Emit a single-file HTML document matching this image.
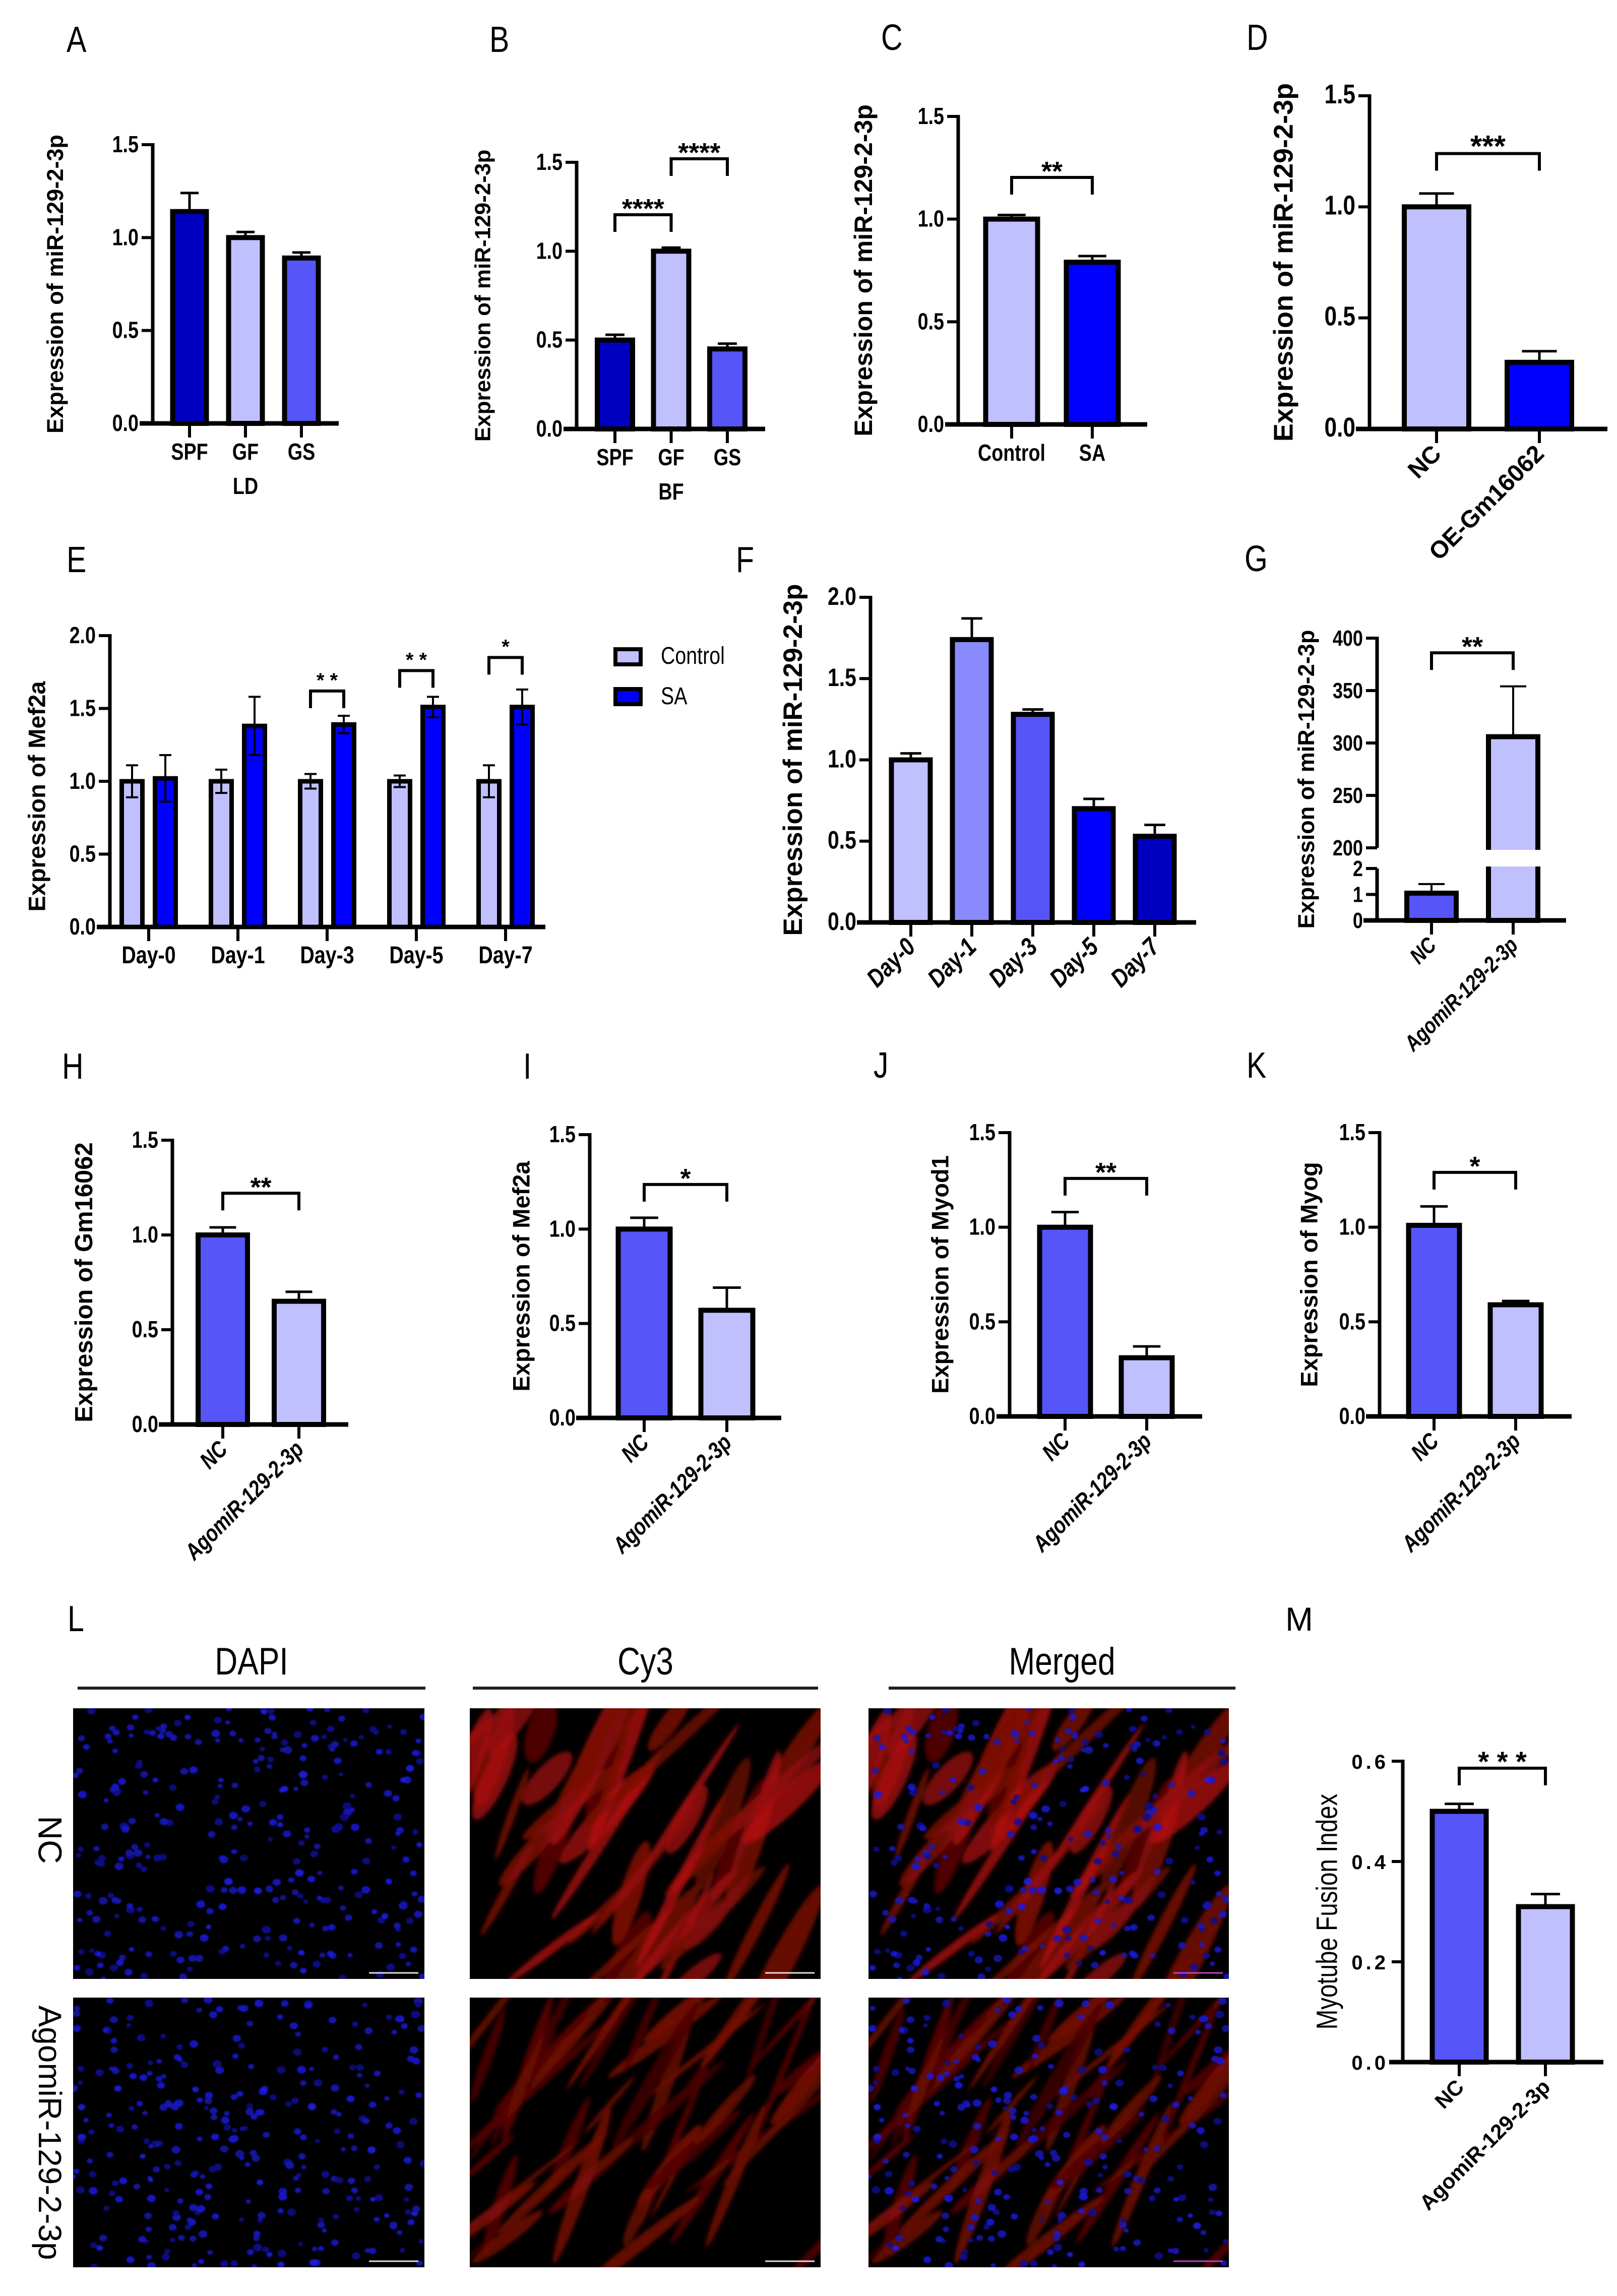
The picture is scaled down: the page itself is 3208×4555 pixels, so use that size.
<!DOCTYPE html>
<html><head><meta charset="utf-8"><title>Figure</title>
<style>
html,body{margin:0;padding:0;background:#fff;}
svg{display:block;}
</style></head>
<body>
<svg id="fig" width="3208" height="4555" viewBox="0 0 3208 4555" xmlns="http://www.w3.org/2000/svg">
<defs>
<filter id="blur" x="-20%" y="-20%" width="140%" height="140%"><feGaussianBlur stdDeviation="4"/></filter>
<filter id="blurS"><feGaussianBlur stdDeviation="1.2"/></filter>
</defs>
</svg>
<script>
// ===== Data arrays =====
const aCats=["SPF","GF","GS"]; const aVals=[1.14,1.0,0.89]; const aErrs=[0.10,0.03,0.03];
const aTicks=[0,0.5,1.0,1.5]; const aTickLabels=["0.0","0.5","1.0","1.5"];
const bCats=["SPF","GF","GS"]; const bVals=[0.50,1.0,0.45]; const bErrs=[0.03,0.02,0.03];
const bTicks=[0,0.5,1.0,1.5]; const bTickLabels=["0.0","0.5","1.0","1.5"];
const cCats=["Control","SA"]; const cVals=[1.0,0.79]; const cErrs=[0.02,0.03];
const cTicks=[0,0.5,1.0,1.5]; const cTickLabels=["0.0","0.5","1.0","1.5"];
const dCats=["NC","OE-Gm16062"]; const dVals=[1.0,0.30]; const dErrs=[0.06,0.05];
const dTicks=[0,0.5,1.0,1.5]; const dTickLabels=["0.0","0.5","1.0","1.5"];
const eCats=["Day-0","Day-1","Day-3","Day-5","Day-7"];
const eControl=[1.0,1.0,1.0,1.0,1.0]; const eControlErr=[0.11,0.08,0.05,0.04,0.11];
const eSA=[1.02,1.38,1.39,1.51,1.51]; const eSAErr=[0.16,0.20,0.06,0.07,0.12];
const eTicks=[0,0.5,1.0,1.5,2.0]; const eTickLabels=["0.0","0.5","1.0","1.5","2.0"];
const eSigLabels=["","","* *","* *","*"]; const eSigLevels=[0,0,1.62,1.76,1.85];
const fCats=["Day-0","Day-1","Day-3","Day-5","Day-7"]; const fVals=[1.0,1.74,1.28,0.70,0.53]; const fErrs=[0.04,0.13,0.03,0.06,0.07];
const fTicks=[0,0.5,1.0,1.5,2.0]; const fTickLabels=["0.0","0.5","1.0","1.5","2.0"];
const gCats=["NC","AgomiR-129-2-3p"]; const gVals=[1.05,306]; const gErrs=[0.35,48];
const gLowTicks=[0,1,2]; const gHighTicks=[200,250,300,350,400];
const hCats=["NC","AgomiR-129-2-3p"]; const hVals=[1.0,0.65]; const hErrs=[0.04,0.05];
const iCats=["NC","AgomiR-129-2-3p"]; const iVals=[1.0,0.57]; const iErrs=[0.06,0.12];
const jCats=["NC","AgomiR-129-2-3p"]; const jVals=[1.0,0.31]; const jErrs=[0.08,0.06];
const kCats=["NC","AgomiR-129-2-3p"]; const kVals=[1.01,0.59]; const kErrs=[0.10,0.02];
const stdTicks=[0,0.5,1.0,1.5]; const stdTickLabels=["0.0","0.5","1.0","1.5"];
const mCats=["NC","AgomiR-129-2-3p"]; const mVals=[0.50,0.31]; const mErrs=[0.015,0.025];
const mTicks=[0,0.2,0.4,0.6]; const mTickLabels=["0.0","0.2","0.4","0.6"];

// ===== Helpers =====
const NS='http://www.w3.org/2000/svg';
const svg=document.getElementById('fig');
const NAR='"Liberation Sans Narrow","Liberation Sans",sans-serif';
const SANS='"Liberation Sans",sans-serif';
function mk(tag,attrs,name,parent){
  const el=document.createElementNS(NS,tag);
  for(const k in attrs) el.setAttribute(k,attrs[k]);
  
  
  (parent||svg).appendChild(el); return el;
}
function txt(s,x,y,a,name,parent){
  a=Object.assign({},a);
  if(a['font-family']===NAR){
    const sc=`translate(${x} ${y}) scale(0.82 1) translate(${-x} ${-y})`;
    a.transform=(a.transform?a.transform+' ':'')+sc;
  }
  const el=mk('text',Object.assign({x:x,y:y},a),name,parent); el.textContent=s; return el;
}
function line(x1,y1,x2,y2,w,name,parent,col){
  return mk('line',{x1:x1,y1:y1,x2:x2,y2:y2,stroke:col||'#000','stroke-width':w},name,parent);
}
function panelLetter(s,x,y){ txt(s,x,y,{'font-family':NAR,'font-size':72,fill:'#000'},'panel-label-'+s.toLowerCase()); }

function bracket(g,x1,x2,yTop,label,fs,name){
  mk('path',{d:`M${x1} ${yTop+34} V${yTop} H${x2} V${yTop+34}`,fill:'none',stroke:'#000','stroke-width':6},name+'-bracket',g);
  txt(label,(x1+x2)/2,yTop+6,{'font-family':SANS,'font-weight':'bold','font-size':fs,'text-anchor':'middle'},name+'-stars',g);
}

function barChart(p){
  const g=mk('g',{},p.name);
  const y=v=>p.y0-(v/p.vMax)*(p.y0-p.yTop);
  const x=i=>p.c0+i*p.step;
  p.vals.forEach((v,i)=>{
    const cx=x(i), top=y(v+p.errs[i]);
    line(cx,y(v),cx,top,5,'error-bar-'+i,g);
    line(cx-p.bw*0.27,top,cx+p.bw*0.27,top,5,'error-cap-'+i,g);
    mk('rect',{x:cx-p.bw/2,y:y(v),width:p.bw,height:p.y0-y(v),fill:p.colors[i],stroke:'#000','stroke-width':10},'bar-'+p.cats[i].toLowerCase(),g);
  });
  line(p.ax,p.yTop-3,p.ax,p.y0,7,'y-axis',g);
  line(p.xStart,p.y0,p.xEnd,p.y0,9,'x-axis',g);
  p.ticks.forEach((t,i)=>{
    line(p.ax-22,y(t),p.ax,y(t),6,'y-tick',g);
    txt(p.tickLabels[i],p.ax-28,y(t)+15,{'font-family':p.tickFont||NAR,'font-weight':'bold','font-size':p.tfs||46,'text-anchor':'end','letter-spacing':p.tls||0},'y-tick-label',g);
  });
  p.cats.forEach((c,i)=>{
    const cx=x(i);
    line(cx,p.y0,cx,p.y0+28,6,'x-tick',g);
    if(p.rot){
      txt(c,cx+12,p.y0+52,{'font-family':p.xFont||NAR,'font-weight':'bold','font-style':p.italic?'italic':'normal','font-size':p.xfs||44,'text-anchor':'end',transform:`rotate(-45 ${cx+12} ${p.y0+52})`},'x-tick-label',g);
    } else {
      txt(c,cx,p.y0+72,{'font-family':NAR,'font-weight':'bold','font-size':p.xfs||46,'text-anchor':'middle'},'x-tick-label',g);
    }
  });
  if(p.xTitle) txt(p.xTitle,x((p.cats.length-1)/2),p.y0+140,{'font-family':NAR,'font-weight':'bold','font-size':46,'text-anchor':'middle'},'x-axis-title',g);
  const tx=p.ax-p.titleDx, ty=(p.y0+p.yTop)/2;
  txt(p.title,tx,ty,{'font-family':p.titleFont||SANS,'font-weight':p.titleWeight||'bold','font-size':p.titleFs||44,'text-anchor':'middle','dominant-baseline':'middle',transform:`rotate(-90 ${tx} ${ty})`},'y-axis-title',g);
  (p.sig||[]).forEach((s,k)=>bracket(g,x(s[0]),x(s[1]),y(s[2]),s[3],s[4]||54,'sig-'+k));
  return g;
}
const LIGHT='#c0c0ff', MED='#5555f8', BLUE='#0000ff', NAVY='#0000c0', MID2='#8a8aff';

// ===== Panels A-D =====
panelLetter('A',132,103); panelLetter('B',971,103); panelLetter('C',1748,99); panelLetter('D',2473,99);
barChart({name:'chart-a',ax:303,y0:840,yTop:287,vMax:1.5,xStart:277,xEnd:672,c0:376,step:111,bw:67,cats:aCats,vals:aVals,errs:aErrs,ticks:aTicks,tickLabels:aTickLabels,colors:[NAVY,LIGHT,MED],title:'Expression of miR-129-2-3p',titleDx:190,titleFs:45,xTitle:'LD'});
barChart({name:'chart-b',ax:1144,y0:851,yTop:322,vMax:1.5,xStart:1118,xEnd:1518,c0:1220,step:111.5,bw:70,cats:bCats,vals:bVals,errs:bErrs,ticks:bTicks,tickLabels:bTickLabels,colors:[NAVY,LIGHT,MED],title:'Expression of miR-129-2-3p',titleDx:183,titleFs:44,xTitle:'BF',sig:[[0,1,1.205,'****'],[1,2,1.52,'****']]});
barChart({name:'chart-c',ax:1901,y0:842,yTop:231,vMax:1.5,xStart:1875,xEnd:2276,c0:2007,step:160,bw:103,cats:cCats,vals:cVals,errs:cErrs,ticks:cTicks,tickLabels:cTickLabels,colors:[LIGHT,BLUE],title:'Expression of miR-129-2-3p',titleDx:184,titleFs:50,sig:[[0,1,1.203,'**']]});
barChart({name:'chart-d',ax:2717,y0:851,yTop:190,vMax:1.5,xStart:2690,xEnd:3189,c0:2850,step:204,bw:128,cats:dCats,vals:dVals,errs:dErrs,ticks:dTicks,tickLabels:dTickLabels,colors:[LIGHT,BLUE],title:'Expression of miR-129-2-3p',titleDx:167,titleFs:54,tfs:54,rot:true,xFont:SANS,xfs:48,sig:[[0,1,1.24,'***',60]]});

// ===== Panel E (grouped) =====
panelLetter('E',132,1135); panelLetter('F',1460,1135); panelLetter('G',2469,1133);
(function(){
  const g=mk('g',{},'chart-e');
  const ax=218,y0=1839,yTop=1261,vMax=2.0,c0=295,step=177,bw=41,off=33;
  const y=v=>y0-(v/vMax)*(y0-yTop);
  const x=i=>c0+i*step;
  function bar(cx,v,e,col,nm){
    mk('rect',{x:cx-bw/2,y:y(v),width:bw,height:y0-y(v),fill:col,stroke:'#000','stroke-width':9},nm,g);
    line(cx,y(v-e),cx,y(v+e),4,nm+'-error',g);
    line(cx-12,y(v+e),cx+12,y(v+e),4,nm+'-error-cap-top',g);
    line(cx-12,y(v-e),cx+12,y(v-e),4,nm+'-error-cap-bottom',g);
  }
  eCats.forEach((c,i)=>{
    bar(x(i)-off,eControl[i],eControlErr[i],LIGHT,'bar-control-'+c.toLowerCase());
    bar(x(i)+off,eSA[i],eSAErr[i],BLUE,'bar-sa-'+c.toLowerCase());
    line(x(i),y0,x(i),y0+28,6,'x-tick',g);
    txt(c,x(i),y0+72,{'font-family':NAR,'font-weight':'bold','font-size':48,'text-anchor':'middle'},'x-tick-label',g);
    if(eSigLabels[i]){
      const t=y(eSigLevels[i]);
      mk('path',{d:`M${x(i)-off} ${t+34} V${t} H${x(i)+off} V${t+34}`,fill:'none',stroke:'#000','stroke-width':6},'sig-bracket',g);
      txt(eSigLabels[i],x(i),t-8,{'font-family':SANS,'font-weight':'bold','font-size':40,'text-anchor':'middle'},'sig-stars',g);
    }
  });
  line(ax,yTop-3,ax,y0,7,'y-axis',g);
  line(192,y0,1082,y0,9,'x-axis',g);
  eTicks.forEach((t,i)=>{
    line(ax-22,y(t),ax,y(t),6,'y-tick',g);
    txt(eTickLabels[i],ax-28,y(t)+15,{'font-family':NAR,'font-weight':'bold','font-size':46,'text-anchor':'end'},'y-tick-label',g);
  });
  const tx=77,ty=(y0+yTop)/2+30;
  txt('Expression of Mef2a',tx,ty,{'font-family':SANS,'font-weight':'bold','font-size':47,'text-anchor':'middle','dominant-baseline':'middle',transform:`rotate(-90 ${tx} ${ty})`},'y-axis-title',g);
  const lg=mk('g',{},'legend',g);
  mk('rect',{x:1221,y:1288,width:50,height:30,fill:LIGHT,stroke:'#000','stroke-width':8},'legend-swatch-control',lg);
  txt('Control',1311,1317,{'font-family':NAR,'font-size':48},'legend-label-control',lg);
  mk('rect',{x:1221,y:1367,width:50,height:30,fill:BLUE,stroke:'#000','stroke-width':8},'legend-swatch-sa',lg);
  txt('SA',1311,1397,{'font-family':NAR,'font-size':48},'legend-label-sa',lg);
})();

barChart({name:'chart-f',ax:1727,y0:1830,yTop:1185,vMax:2.0,xStart:1700,xEnd:2373,c0:1807,step:121,bw:77,cats:fCats,vals:fVals,errs:fErrs,ticks:fTicks,tickLabels:fTickLabels,colors:[LIGHT,MID2,MED,BLUE,NAVY],title:'Expression of miR-129-2-3p',titleDx:150,titleFs:53,tfs:50,rot:true,italic:true,xfs:50});

// ===== Panel G (broken axis) =====
(function(){
  const g=mk('g',{},'chart-g');
  const ax=2732,y0=1826,yLowTop=1723,yHighBot=1682,yTop=1266;
  const yL=v=>y0-(v/2)*(y0-yLowTop);
  const yH=v=>yHighBot-((v-200)/200)*(yHighBot-yTop);
  const yv=v=>v<=2?yL(v):yH(v);
  const x=i=>2840+i*162, bw=98, cols=[MED,LIGHT];
  gVals.forEach((v,i)=>{
    const cx=x(i), e=gErrs[i];
    line(cx,yv(v),cx,yv(v+e),4,'error-bar-'+i,g);
    line(cx-26,yv(v+e),cx+26,yv(v+e),4,'error-cap-'+i,g);
    if(v<=2){
      mk('rect',{x:cx-bw/2,y:yL(v),width:bw,height:y0-yL(v),fill:cols[i],stroke:'#000','stroke-width':10},'bar-'+gCats[i].toLowerCase(),g);
    } else {
      mk('rect',{x:cx-bw/2,y:yH(v),width:bw,height:y0-yH(v),fill:cols[i],stroke:'#000','stroke-width':10},'bar-'+gCats[i].toLowerCase(),g);
      mk('rect',{x:cx-bw/2-8,y:yHighBot+4,width:bw+16,height:yLowTop-yHighBot-8,fill:'#fff'},'axis-break-gap',g);
    }
  });
  line(ax,yTop-3,ax,yHighBot,7,'y-axis-upper',g);
  line(ax,yLowTop,ax,y0,7,'y-axis-lower',g);
  line(2705,y0,3107,y0,9,'x-axis',g);
  gLowTicks.forEach(t=>{ line(ax-22,yL(t),ax,yL(t),6,'y-tick',g); txt(String(t),ax-28,yL(t)+15,{'font-family':NAR,'font-weight':'bold','font-size':44,'text-anchor':'end'},'y-tick-label',g); });
  gHighTicks.forEach(t=>{ line(ax-22,yH(t),ax,yH(t),6,'y-tick',g); txt(String(t),ax-28,yH(t)+15,{'font-family':NAR,'font-weight':'bold','font-size':44,'text-anchor':'end'},'y-tick-label',g); });
  gCats.forEach((c,i)=>{
    line(x(i),y0,x(i),y0+28,6,'x-tick',g);
    txt(c,x(i)+12,y0+52,{'font-family':NAR,'font-weight':'bold','font-style':'italic','font-size':44,'text-anchor':'end',transform:`rotate(-45 ${x(i)+12} ${y0+52})`},'x-tick-label',g);
  });
  const tx=2595,ty=1546;
  txt('Expression of miR-129-2-3p',tx,ty,{'font-family':SANS,'font-weight':'bold','font-size':45,'text-anchor':'middle','dominant-baseline':'middle',transform:`rotate(-90 ${tx} ${ty})`},'y-axis-title',g);
  bracket(g,x(0),x(1),yH(386),'**',54,'sig-0');
})();

// ===== Panels H-K =====
panelLetter('H',123,2140); panelLetter('I',1038,2140); panelLetter('J',1733,2138); panelLetter('K',2473,2138);
barChart({name:'chart-h',ax:342,y0:2826,yTop:2262,vMax:1.5,xStart:315,xEnd:691,c0:442,step:151,bw:98,cats:hCats,vals:hVals,errs:hErrs,ticks:stdTicks,tickLabels:stdTickLabels,colors:[MED,LIGHT],title:'Expression of Gm16062',titleDx:172,titleFs:49,rot:true,italic:true,xfs:46,sig:[[0,1,1.22,'**']]});
barChart({name:'chart-i',ax:1170,y0:2813,yTop:2251,vMax:1.5,xStart:1143,xEnd:1550,c0:1278,step:164,bw:103,cats:iCats,vals:iVals,errs:iErrs,ticks:stdTicks,tickLabels:stdTickLabels,colors:[MED,LIGHT],title:'Expression of Mef2a',titleDx:132,titleFs:47,rot:true,italic:true,xfs:46,sig:[[0,1,1.236,'*']]});
barChart({name:'chart-j',ax:2003,y0:2810,yTop:2247,vMax:1.5,xStart:1977,xEnd:2385,c0:2113,step:162,bw:101,cats:jCats,vals:jVals,errs:jErrs,ticks:stdTicks,tickLabels:stdTickLabels,colors:[MED,LIGHT],title:'Expression of Myod1',titleDx:134,titleFs:47,rot:true,italic:true,xfs:46,sig:[[0,1,1.258,'**']]});
barChart({name:'chart-k',ax:2737,y0:2810,yTop:2247,vMax:1.5,xStart:2710,xEnd:3118,c0:2845,step:162,bw:101,cats:kCats,vals:kVals,errs:kErrs,ticks:stdTicks,tickLabels:stdTickLabels,colors:[MED,LIGHT],title:'Expression of Myog',titleDx:136,titleFs:47,rot:true,italic:true,xfs:46,sig:[[0,1,1.29,'*']]});

// ===== Panel M =====
panelLetter('L',134,3236);
txt('M',2550,3235,{'font-family':SANS,'font-size':66},'panel-label-m');
barChart({name:'chart-m',ax:2783,y0:4091,yTop:3494,vMax:0.6,xStart:2756,xEnd:3181,c0:2895,step:171,bw:107,cats:mCats,vals:mVals,errs:mErrs,ticks:mTicks,tickLabels:mTickLabels,colors:[MED,LIGHT],title:'Myotube Fusion Index',titleDx:146,titleFont:NAR,titleWeight:'normal',titleFs:58,tickFont:SANS,tfs:40,tls:6,rot:true,xFont:SANS,xfs:42,sig:[[0,1,0.586,'* * *',56]]});

// ===== Panel L: microscopy =====
function rng(seed){return function(){seed|=0;seed=seed+0x6D2B79F5|0;let t=Math.imul(seed^seed>>>15,1|seed);t=t+Math.imul(t^t>>>7,61|t)^t;return((t^t>>>14)>>>0)/4294967296;};}
function micro(x0,y0,w,h,type,seed,name,bright){
  const g=mk('g',{},name);
  mk('rect',{x:x0,y:y0,width:w,height:h,fill:'#000'},'image-background',g);
  const clipId='clip'+name;
  const cp=mk('clipPath',{id:clipId},'clip',g);
  mk('rect',{x:x0,y:y0,width:w,height:h},'clip-rect',cp);
  const inner=mk('g',{'clip-path':`url(#${clipId})`},'image-content',g);
  if(type!=='dapi'){
    const r=rng(seed*7+3);
    const rg=mk('g',{filter:'url(#blur)'},'cy3-signal',inner);
    const n=bright?45:50;
    for(let k=0;k<n;k++){
      const cx=x0+r()*w, cy=y0+r()*h, rx=60+r()*170, ry=bright?(7+r()*20):(4+r()*11), ang=-35-r()*40;
      const lum=bright?(90+r()*100):(70+r()*80);
      mk('ellipse',{cx:cx,cy:cy,rx:rx,ry:ry,fill:`rgb(${lum|0},${(lum*0.08)|0},${(lum*0.06)|0})`,opacity:0.75,transform:`rotate(${ang} ${cx} ${cy})`},'myotube',rg);
    }
  }
  if(type!=='cy3'){
    const r=rng(seed*13+11);
    const bg=mk('g',{filter:'url(#blurS)'},'dapi-nuclei',inner);
    const n=type==='dapi'?300:230;
    for(let k=0;k<n;k++){
      const cx=x0+r()*w, cy=y0+r()*h, rr=5+r()*4;
      const b=130+r()*110;
      mk('ellipse',{cx:cx,cy:cy,rx:rr,ry:rr*0.85,fill:`rgb(${(b*0.12)|0},${(b*0.12)|0},${b|0})`,opacity:0.85},'nucleus',bg);
    }
  }
  line(x0+w-110,y0+h-12,x0+w-12,y0+h-12,3,'scale-bar',g,type==='merged'?'#c040c0':'#ddd');
  return g;
}
const colX=[145,932,1723], colW=[697,696,715];
const rowY=[3389,3963], rowH=[537,535];
const colNames=['dapi','cy3','merged'];
rowY.forEach((ry,ri)=>colX.forEach((cx,ci)=>micro(cx,ry,colW[ci],rowH[ri],colNames[ci],ri+1,'micrograph-'+(ri?'agomir':'nc')+'-'+colNames[ci],ri===0)));
const hdr=[['DAPI',154,844],['Cy3',938,1623],['Merged',1763,2451]];
hdr.forEach(h=>{
  txt(h[0],(h[1]+h[2])/2,3322,{'font-family':NAR,'font-size':76,'text-anchor':'middle'},'column-header-'+h[0].toLowerCase());
  line(h[1],3349,h[2],3349,6,'column-header-line',svg,'#222');
});
txt('NC',94,3650,{'font-family':SANS,'font-size':66,'text-anchor':'middle','dominant-baseline':'middle',transform:'rotate(90 94 3650)'},'row-label-nc');
txt('AgomiR-129-2-3p',94,4231,{'font-family':SANS,'font-size':64,'text-anchor':'middle','dominant-baseline':'middle',transform:'rotate(90 94 4231)'},'row-label-agomir');
</script>
</body></html>
